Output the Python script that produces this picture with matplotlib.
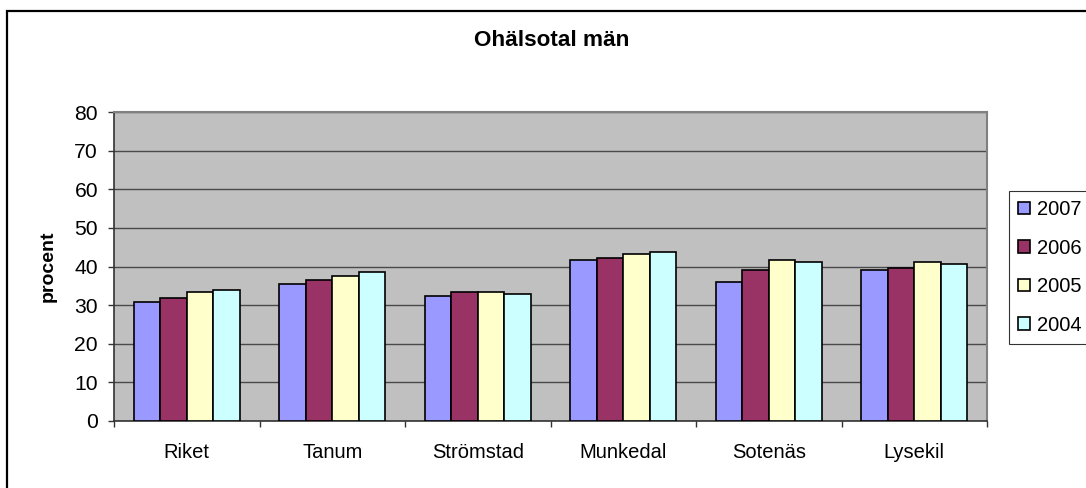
import numpy as np
import matplotlib
matplotlib.use('Agg')
import matplotlib.pyplot as plt
from matplotlib.patches import Rectangle
from matplotlib.ticker import FixedLocator

plt.rcParams['font.family'] = ['Liberation Sans', 'DejaVu Sans']

# data
kommuner = ['Riket', 'Tanum', 'Strömstad', 'Munkedal', 'Sotenäs', 'Lysekil']
years = ['2007', '2006', '2005', '2004']
v2007 = [30.8, 35.4, 32.3, 41.6, 35.9, 39.0]
v2006 = [31.8, 36.4, 33.3, 42.2, 39.0, 39.6]
v2005 = [33.4, 37.5, 33.3, 43.2, 41.6, 41.1]
v2004 = [33.9, 38.5, 32.9, 43.7, 41.1, 40.6]
series = [v2007, v2006, v2005, v2004]
colors = ['#9999FF', '#993366', '#FFFFCC', '#CCFFFF']

W, H = 1086, 488
fig = plt.figure(figsize=(W / 100, H / 100), dpi=100)
ax = fig.add_axes([114 / W, 67 / H, 873 / W, 309 / H])
ax.set_facecolor('#C0C0C0')

x = np.arange(len(kommuner))
bw = 1 / 5.5  # Excel gap width 150
for k, (vals, col) in enumerate(zip(series, colors)):
    ax.bar(x + (k - 1.5) * bw, vals, bw, color=col, edgecolor='black',
           linewidth=1.2, label=years[k], zorder=3)

ax.set_xlim(-0.5, 5.5)
ax.set_ylim(0, 80)
ax.set_yticks(np.arange(0, 81, 10))
ax.yaxis.grid(True, color='#4a4a4a', linewidth=1.0, zorder=1)
ax.set_axisbelow(True)

ax.set_xticks(x)
ax.set_xticklabels(kommuner)
ax.xaxis.set_minor_locator(FixedLocator(np.arange(-0.5, 6, 1)))
ax.tick_params(axis='x', which='major', length=0, pad=16, labelsize=14.5)
ax.tick_params(axis='x', which='minor', length=4.5, width=1, color='#333333', direction='out')
ax.tick_params(axis='y', length=4.5, width=1, color='#333333', pad=7, labelsize=15.2)

for s in ['top', 'right']:
    ax.spines[s].set_color('#808080')
    ax.spines[s].set_linewidth(1.5)
for s in ['left', 'bottom']:
    ax.spines[s].set_color('#333333')
    ax.spines[s].set_linewidth(1.2)

ax.set_ylabel('procent', fontsize=14, fontweight='bold', labelpad=13)

fig.text(552 / W, 1 - 40 / H, 'Ohälsotal män', ha='center', va='center',
         fontsize=16.2, fontweight='bold')

leg = ax.legend(loc='upper left', bbox_to_anchor=(1009 / W, 1 - 191 / H),
                bbox_transform=fig.transFigure, fontsize=14.5, frameon=True,
                fancybox=False, borderaxespad=0, borderpad=0.45,
                labelspacing=0.97, handlelength=0.6, handleheight=0.6,
                handletextpad=0.35)
leg.get_frame().set_edgecolor('#000000')
leg.get_frame().set_linewidth(0.8)

# outer chart border (cropped on the right and bottom)
fig.patches.append(Rectangle((7 / W, -0.2), 1.5, 1.2 - 11 / H,
                             transform=fig.transFigure, fill=False,
                             edgecolor='black', linewidth=1.6))

fig.savefig('out.png', dpi=100)
